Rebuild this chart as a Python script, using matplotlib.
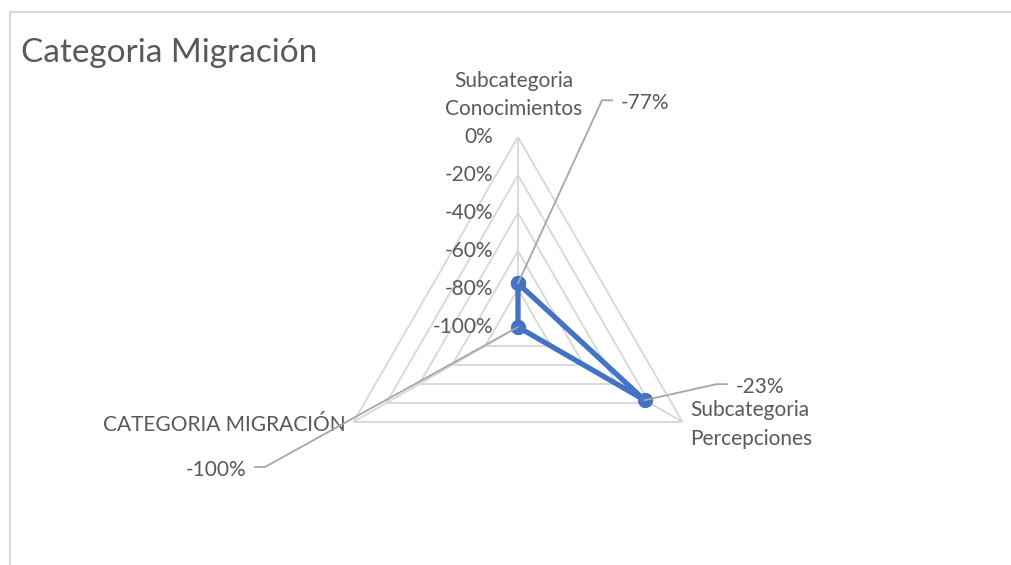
import numpy as np
import matplotlib
matplotlib.use("Agg")
import matplotlib.pyplot as plt
from matplotlib.lines import Line2D

plt.rcParams['font.family'] = ['Lato', 'DejaVu Sans']

# Data
categories = ['Subcategoria\nConocimientos', 'Subcategoria\nPercepciones', 'CATEGORIA MIGRACIÓN']
values = [-77, -23, -100]
rings = [-100, -80, -60, -40, -20, 0]
ring_labels = ['-100%', '-80%', '-60%', '-40%', '-20%', '0%']

TEXT = '#595959'
GRID = '#D9D9D9'
LEADER = '#A6A6A6'
LINE = '#4472C4'

W, H, DPI = 1011, 565, 100
fig = plt.figure(figsize=(W / DPI, H / DPI), dpi=DPI)

# chart border (top and left edges visible)
fig.add_artist(Line2D([10 / W, 1], [1 - 12 / H, 1 - 12 / H], color=GRID, lw=1.5))
fig.add_artist(Line2D([10 / W, 10 / W], [0, 1 - 12 / H], color=GRID, lw=1.5))

fig.text(21 / W, 1 - 53 / H, 'Categoria Migración', fontsize=24, color=TEXT,
         ha='left', va='center')

# radar area: centre (518, 327) px, radius 190 px
cx, cy, rad = 518, 327, 190
ax = fig.add_axes([(cx - rad) / W, (H - cy - rad) / H, 2 * rad / W, 2 * rad / H],
                  projection='polar')
ax.set_theta_offset(np.pi / 2)
ax.set_theta_direction(-1)
ax.set_ylim(-100, 0)
ax.grid(False)
ax.set_xticks([])
ax.set_yticks([])
ax.spines['polar'].set_visible(False)
ax.patch.set_alpha(0)

n = len(categories)
theta = np.arange(n) * 2 * np.pi / n
closed = np.append(theta, theta[0])

# polygon grid and spokes
for r in rings[1:]:
    ax.plot(closed, [r] * (n + 1), color=GRID, lw=1.4, zorder=1)
for t in theta:
    ax.plot([t, t], [-100, 0], color=GRID, lw=1.4, zorder=1)

# radial tick labels along the top spoke
for r, lab in zip(rings, ring_labels):
    ax.annotate(lab, xy=(0, r), xytext=(-25, 0), textcoords='offset pixels',
                ha='right', va='center', fontsize=15, color=TEXT, annotation_clip=False)

# category labels, placed next to the outer vertex of each spoke
cat_offsets = [(-4, 42, 'center', 'center'), (8, 22, 'left', 'top'), (-8, -3, 'right', 'center')]
for t, lab, (dx, dy, ha, va) in zip(theta, categories, cat_offsets):
    ax.annotate(lab, xy=(t, 0), xytext=(dx, dy), textcoords='offset pixels',
                ha=ha, va=va, fontsize=15, color=TEXT, linespacing=1.55,
                annotation_clip=False)

# series
vals = np.append(values, values[0])
ax.plot(closed, vals, color=LINE, lw=3.8, marker='o', ms=10, zorder=5,
        solid_joinstyle='round')

# data labels with leader lines
leaders = [(84, 183, 10, 'left'), (72, 16, 10, 'left'), (-253, -140, -10, 'right')]
for t, v, (dx, dy, dx2, ha) in zip(theta, values, leaders):
    px, py = ax.transData.transform((t, v))
    xs = np.array([px, px + dx, px + dx + dx2]) / W
    ys = np.array([py, py + dy, py + dy]) / H
    fig.add_artist(Line2D(xs, ys, color=LEADER, lw=1.3, zorder=4))
    gap = 9 if ha == 'left' else -9
    fig.text((px + dx + dx2 + gap) / W, (py + dy - 3) / H, f'{v}%', ha=ha, va='center',
             fontsize=15, color=TEXT)

fig.savefig('out.png', dpi=DPI)
